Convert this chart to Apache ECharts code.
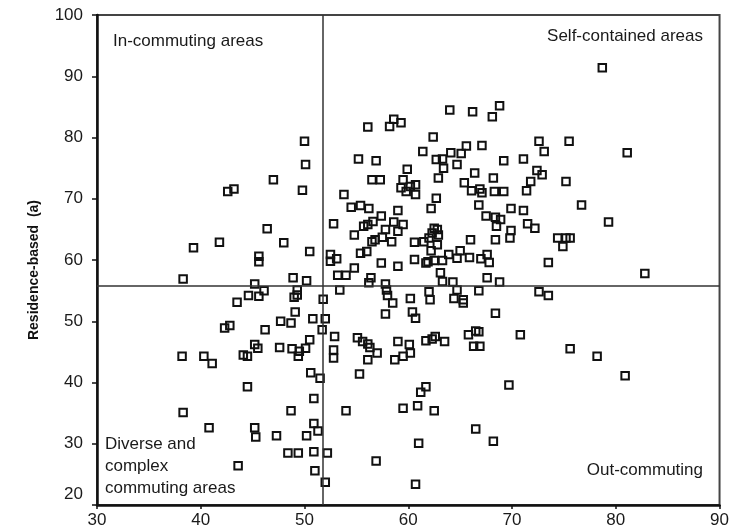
<!DOCTYPE html>
<html>
<head>
<meta charset="utf-8">
<script src="https://cdn.jsdelivr.net/npm/echarts@6/dist/echarts.min.js"></script>
<style>
html,body{margin:0;padding:0;background:#fff;}
#chart{width:732px;height:532px;}
</style>
</head>
<body>
<div id="chart"></div>
<script>
// Axis tick values
const xTicks = [30, 40, 50, 60, 70, 80, 90];
const yTicks = [20, 30, 40, 50, 60, 70, 80, 90, 100];
const yAxisTitle = 'Residence-based  (a)';
// Quadrant dividing values
const xDivider = 51.8;
const yDivider = 55.8;
// Quadrant labels
const labelInCommuting = 'In-commuting areas';
const labelSelfContained = 'Self-contained areas';
const labelDiverse = 'Diverse and\ncomplex\ncommuting areas';
const labelOutCommuting = 'Out-commuting';

// Points, [x, y], grouped by quadrant
const topLeft = [
  [50.0,79.4],[50.1,75.6],[47.0,73.1],[49.8,71.4],[43.2,71.6],[42.6,71.2],[39.3,62.0],[41.8,62.9],
  [38.3,56.9],[45.6,60.6],[45.6,59.7],[45.2,56.1],[46.4,65.1],[48.0,62.8],[50.5,61.4],[48.9,57.1],[50.2,56.6]
];
const topRight = [
  [78.7,91.4],[81.1,77.5],[64.0,84.5],[66.2,84.2],[68.1,83.4],[68.8,85.2],[62.4,80.1],[61.4,77.7],
  [62.7,76.4],[63.3,76.5],[63.4,75.0],[64.1,77.5],[65.1,77.4],[65.6,78.6],[67.1,78.7],[64.7,75.6],
  [69.2,76.2],[71.1,76.5],[72.6,79.4],[73.1,77.7],[75.5,79.4],[72.4,74.6],[72.9,73.9],[71.8,72.8],
  [75.2,72.8],[62.9,73.4],[66.4,74.2],[68.2,73.4],[60.7,72.3],[65.4,72.6],
  [56.1,81.7],[58.2,81.8],[58.6,83.0],[59.3,82.4],[55.2,76.5],[56.9,76.2],[56.5,73.1],[57.3,73.1],
  [59.9,74.8],[59.5,73.1],
  [53.8,70.7],[54.5,68.6],[55.4,68.9],[56.2,68.4],[52.8,65.9],[59.0,68.1],[57.4,67.2],[56.6,66.3],
  [55.7,65.5],[56.1,65.8],[58.6,66.2],[59.5,65.8],[57.8,65.0],[59.0,64.7],[54.8,64.1],[56.8,63.3],
  [57.5,63.7],[58.4,63.0],[56.5,63.0],[60.6,62.9],[52.5,60.9],[53.1,60.2],[52.5,59.8],[55.4,61.1],
  [56.0,61.4],[57.4,59.5],[59.0,59.0],[60.6,60.1],[54.8,58.7],[53.2,57.5],[54.0,57.5],[56.4,57.1],
  [56.2,56.3],[57.8,56.1],
  [59.3,71.8],[59.8,71.2],[60.2,72.0],[60.7,70.7],[62.7,70.1],[62.2,68.4],[66.1,71.3],[66.9,71.6],
  [67.1,71.0],[68.3,71.2],[69.2,71.2],[71.4,71.3],[66.8,69.0],[69.9,68.4],[71.1,68.1],[67.5,67.2],
  [68.4,67.0],[68.9,66.6],[68.5,65.5],[69.9,64.8],[69.8,63.6],[71.5,65.9],[72.2,65.2],[68.4,63.3],
  [66.0,63.3],[74.4,63.6],[75.2,63.6],[75.6,63.6],[74.9,62.2],[76.7,69.0],[79.3,66.2],[82.8,57.8],
  [73.5,59.6],
  [62.5,65.2],[62.8,65.0],[62.3,64.4],[62.9,64.1],[62.0,63.6],[61.5,63.0],[62.8,62.5],[62.2,61.5],
  [61.9,59.7],[61.7,59.5],[62.5,59.9],[63.3,59.9],[63.9,60.9],[64.7,60.3],[65.0,61.5],[65.9,60.4],
  [67.0,60.2],[67.6,60.9],[67.8,59.6],[63.1,57.9],[63.3,56.5],[64.3,56.4],[67.6,57.1],[68.8,56.4]
];
const bottomLeft = [
  [44.6,54.2],[45.6,54.1],[43.5,53.1],[42.3,48.9],[42.8,49.3],[45.2,46.2],[45.5,45.6],[38.2,44.3],
  [40.3,44.3],[41.1,43.1],[44.1,44.5],[44.5,44.3],[44.5,39.3],[38.3,35.1],[40.8,32.6],[45.2,32.6],
  [45.3,31.1],[43.6,26.4],[46.1,55.0],[49.3,55.1],[49.3,54.3],[49.0,53.9],[49.1,51.5],[47.7,50.0],
  [48.7,49.7],[50.8,50.4],[51.7,48.6],[46.2,48.6],[50.5,47.0],[50.1,45.6],[49.5,45.1],[48.8,45.5],
  [49.4,44.3],[47.6,45.7],[50.6,41.6],[51.5,40.7],[50.9,37.4],[48.7,35.4],[50.9,33.3],[51.3,32.1],
  [50.2,31.3],[47.3,31.3],[48.4,28.5],[49.4,28.5],[50.9,28.7],[51.0,25.6]
];
const bottomRight = [
  [51.8,53.6],[52.0,50.4],[52.2,28.5],[52.0,23.7],[53.4,55.1],[58.0,54.2],[57.9,55.1],[58.5,53.0],
  [60.2,53.7],[57.8,51.2],[60.4,51.5],[60.7,50.5],[52.9,47.5],[52.8,45.3],[52.8,44.0],[55.1,47.3],
  [55.6,46.7],[56.1,46.3],[56.3,45.7],[57.0,44.8],[56.1,43.7],[59.0,46.7],[60.1,46.2],[60.2,44.8],
  [59.5,44.3],[58.7,43.7],[55.3,41.4],[54.0,35.4],[59.5,35.8],[60.9,36.2],[61.2,38.4],[61.7,39.3],
  [62.5,35.4],[69.7,39.6],[66.5,32.4],[68.2,30.4],[61.0,30.1],[60.7,23.4],[56.9,27.2],
  [62.0,54.8],[62.1,53.5],[64.4,53.7],[65.3,53.5],[65.3,53.0],[64.7,55.1],[66.8,55.0],[72.6,54.8],
  [73.5,54.2],[68.4,51.3],[61.7,46.8],[62.3,47.1],[62.6,47.5],[63.5,46.7],[65.8,47.8],[66.5,48.4],
  [66.8,48.3],[66.3,45.9],[66.9,45.9],[70.8,47.8],[75.6,45.5],[78.2,44.3],[80.9,41.1]
];

const allPoints = topLeft.concat(topRight, bottomLeft, bottomRight);
const font = '"Liberation Sans", Arial, Helvetica, sans-serif';

const chart = echarts.init(document.getElementById('chart'), null, {renderer: 'canvas'});
chart.setOption({
  animation: false,
  backgroundColor: '#ffffff',
  grid: {
    left: 97, right: 11, top: 15, bottom: 27,
    show: true, borderColor: '#444', borderWidth: 2, backgroundColor: 'transparent'
  },
  xAxis: {
    type: 'value',
    min: xTicks[0], max: xTicks[xTicks.length - 1], interval: 10,
    axisLine: {show: true, onZero: false, lineStyle: {color: '#111', width: 2.5}},
    axisTick: {show: true, length: 4, lineStyle: {color: '#111', width: 1.5}},
    axisLabel: {color: '#1a1a1a', fontSize: 17, fontFamily: font, margin: 7},
    splitLine: {show: false}
  },
  yAxis: {
    type: 'value',
    min: yTicks[0], max: yTicks[yTicks.length - 1], interval: 10,
    name: yAxisTitle,
    nameLocation: 'middle',
    nameGap: 56,
    nameTextStyle: {color: '#111', fontSize: 14, fontWeight: 'bold', fontFamily: font, padding: [0, 20, 0, 0]},
    axisLine: {show: true, onZero: false, lineStyle: {color: '#111', width: 2.5}},
    axisTick: {show: true, length: 5, lineStyle: {color: '#111', width: 1.5}},
    axisLabel: {
      color: '#1a1a1a', fontSize: 17, fontFamily: font, margin: 14,
      formatter: function (v) { return v === yTicks[0] ? '{low|' + v + '}' : String(v); },
      rich: {low: {fontSize: 17, fontFamily: font, color: '#1a1a1a', padding: [0, 0, 22, 0]}}
    },
    splitLine: {show: false}
  },
  series: [{
    type: 'scatter',
    data: allPoints,
    symbol: 'rect',
    symbolSize: 7.5,
    itemStyle: {color: 'rgba(255,255,255,0)', borderColor: '#111', borderWidth: 2, opacity: 1},
    emphasis: {disabled: true},
    markLine: {
      silent: true,
      symbol: 'none',
      label: {show: false},
      lineStyle: {color: '#333', width: 1.5, type: 'solid'},
      data: [{xAxis: xDivider}, {yAxis: yDivider}]
    },
    z: 3
  }],
  graphic: [
    {type: 'text', left: 113, top: 33, style: {text: labelInCommuting, fontSize: 17, fontFamily: font, fill: '#1a1a1a'}},
    {type: 'text', right: 29, top: 28, style: {text: labelSelfContained, fontSize: 17, fontFamily: font, fill: '#1a1a1a'}},
    {type: 'text', left: 105, top: 433, style: {text: labelDiverse, fontSize: 17, lineHeight: 22, fontFamily: font, fill: '#1a1a1a'}},
    {type: 'text', right: 29, top: 462, style: {text: labelOutCommuting, fontSize: 17, fontFamily: font, fill: '#1a1a1a'}}
  ]
});
</script>
</body>
</html>
